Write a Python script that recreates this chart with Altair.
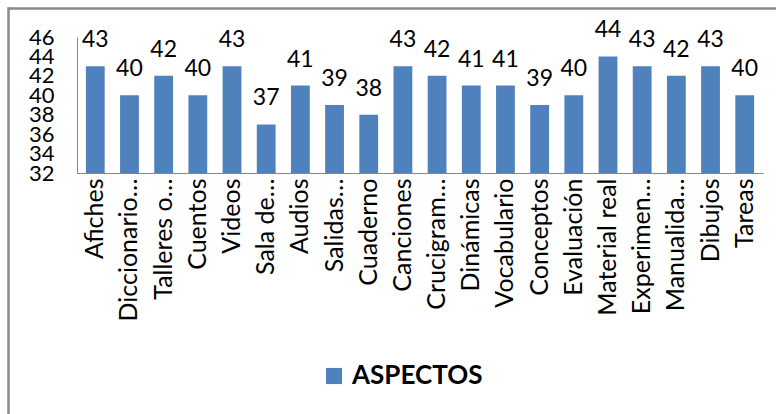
import altair as alt
import pandas as pd

# Categories (Excel-style truncated labels) and their scores
aspectos = [
    "Afiches", "Diccionario…", "Talleres o…", "Cuentos", "Videos",
    "Sala de…", "Audios", "Salidas…", "Cuaderno", "Canciones",
    "Crucigram…", "Dinámicas", "Vocabulario", "Conceptos", "Evaluación",
    "Material real", "Experimen…", "Manualida…", "Dibujos", "Tareas",
]
valores = [43, 40, 42, 40, 43, 37, 41, 39, 38, 43, 42, 41, 41, 39, 40, 44, 43, 42, 43, 40]
serie = "ASPECTOS"
y_ticks = [32, 34, 36, 38, 40, 42, 44, 46]

df = pd.DataFrame({"aspecto": aspectos, "valor": valores, "serie": serie})

FONT = "Lato"
BLUE = "#4F81BD"
GREY = "#868686"

x_enc = alt.X(
    "aspecto:N",
    sort=aspectos,
    title=None,
    scale=alt.Scale(paddingInner=0.45, paddingOuter=0.26),
    axis=alt.Axis(
        labelAngle=-90,
        labelAlign="right",
        labelBaseline="middle",
        labelFont=FONT,
        labelFontSize=25,
        labelColor="black",
        labelPadding=5,
        ticks=False,
        tickSize=0,
        domainColor=GREY,
        labelOverlap=False,
        labelLimit=0,
        # untruncated labels get trailing space so their text lines up
        labelExpr="indexof(datum.label, '…') >= 0 ? datum.label : datum.label + '\u00a0\u00a0'",
    ),
)

y_enc = alt.Y(
    "valor:Q",
    title=None,
    scale=alt.Scale(domain=[32, 46], nice=False, zero=False),
    axis=alt.Axis(
        values=y_ticks,
        tickCount=8,
        labelFont=FONT,
        labelFontSize=22,
        labelColor="black",
        labelPadding=23,
        ticks=False,
        tickSize=0,
        grid=False,
        domainColor=GREY,
        labelOverlap=False,
        labelFlush=False,
    ),
)

base = alt.Chart(df)

bars = base.mark_bar(clip=True).encode(
    x=x_enc,
    y=y_enc,
    color=alt.Color(
        "serie:N",
        scale=alt.Scale(range=[BLUE]),
        legend=alt.Legend(
            title=None,
            orient="none",
            legendX=244,
            legendY=326,
            symbolType="square",
            symbolSize=260,
            symbolStrokeWidth=0,
            labelFont=FONT,
            labelFontSize=26,
            labelFontWeight="bold",
            labelColor="black",
            labelOffset=5,
        ),
    ),
)

labels = base.mark_text(
    font=FONT, fontSize=23, color="black", baseline="alphabetic", dy=-19
).encode(
    x=x_enc,
    y=y_enc,
    text="valor:Q",
)

# grey frame around the chart (top and left edges)
frame = alt.Chart(alt.Data(values=[{}]))
top_edge = frame.mark_rule(color="#8a8a8a", strokeWidth=2.5).encode(
    x=alt.value(-68.5), x2=alt.value(720), y=alt.value(-28.5)
)
left_edge = frame.mark_rule(color="#8a8a8a", strokeWidth=2.5).encode(
    x=alt.value(-68.5), y=alt.value(-29.7), y2=alt.value(400)
)

chart = (
    alt.layer(bars, labels, top_edge, left_edge)
    .properties(
        width=686,
        height=136,
        autosize=alt.AutoSizeParams(type="none"),
        padding={"left": 77, "top": 37, "right": 13, "bottom": 241},
        background="white",
    )
    .configure_view(stroke=None)
)

chart.save("out.html", embed_options={"renderer": "svg", "actions": False})
